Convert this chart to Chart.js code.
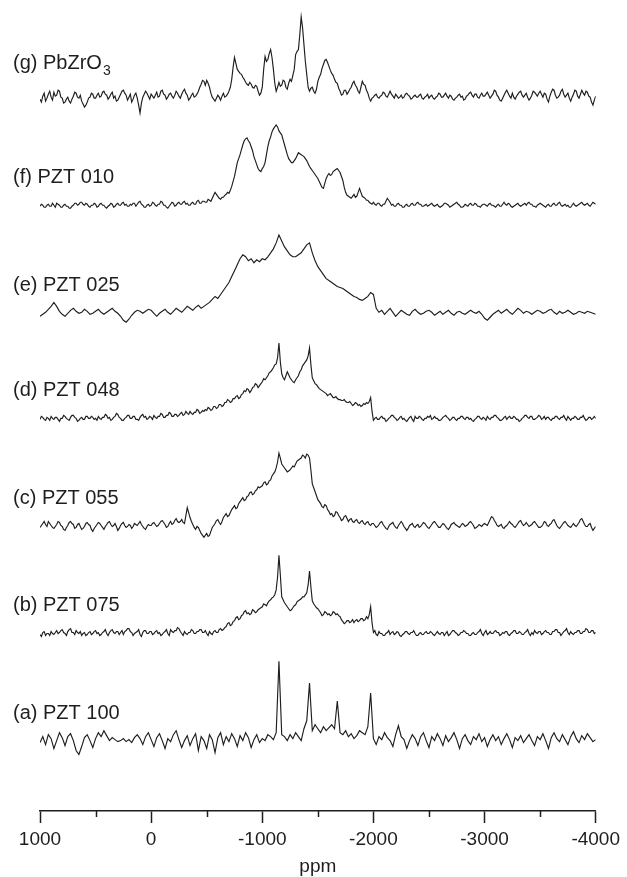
<!DOCTYPE html>
<html>
<head>
<meta charset="utf-8">
<script src="https://cdn.jsdelivr.net/npm/chart.js@4/dist/chart.umd.min.js"></script>
<style>
  html, body { margin: 0; padding: 0; background: #fff; }
  #wrap { width: 627px; height: 877px; position: relative; }
</style>
</head>
<body>
<div id="wrap"><canvas id="c" width="627" height="877"></canvas></div>
<script>
// ---- ppm range covered by every spectrum (evenly sampled) ----
const ppmStart = 1000;
const ppmEnd = -4000;
// ---- axis ticks ----
const majorTicks = [1000, 0, -1000, -2000, -3000, -4000];
const minorTicks = [500, -500, -1500, -2500, -3500];
const axisTitle = 'ppm';
// ---- sample names ----
const sampleLabels = ['(a) PZT 100', '(b) PZT 075', '(c) PZT 055', '(d) PZT 048', '(e) PZT 025', '(f) PZT 010', '(g) PbZrO'];
// vertical offset of each trace (stacked display, arbitrary units)
const traceOffsets = [69, 178, 286, 395, 501, 610, 718];

// ---- intensities (arbitrary units), from 1000 ppm to -4000 ppm ----
// (a) and (e): every 25 ppm
const specA = [
  0, 6, -2, 8, 4, -6, 2, 10, 5, -3, 6, 9, 2, -8, -12, -4, 5, 8, 2, -5,
  4, 10, 6, 12, 7, 2, 5, 3, 1, 2, 4, 1, 3, 0, 5, 8, 4, -2, 6, 10,
  3, -4, 5, 9, 2, -6, 4, 1, 8, 12, 3, -5, 2, 7, -3, 4, 9, -8, 6, 2,
  -6, 8, 3, -10, 5, 10, -2, 6, 1, 9, 4, -4, 7, 2, 10, 5, -5, 3, 8, 0,
  4, 2, 8, 6, 3, 10, 82, 8, 6, 2, 8, 4, 10, 6, 2, 14, 22, 60, 12, 18,
  14, 10, 16, 12, 15, 18, 14, 42, 10, 8, 12, 6, 9, 4, 7, 12, 10, 8, 16, 50,
  4, -2, 6, 3, 10, 5, 2, -4, 8, 17, 6, 3, -6, 2, 8, 4, -3, 6, 10, 2,
  -5, 6, 2, 9, 4, -3, 7, 1, 5, 10, 3, -6, 4, 8, 2, -2, 6, 3, 9, 1,
  5, -4, 3, 8, 2, 6, -2, 4, 9, 3, -5, 5, 2, 7, 0, 4, 8, 2, -3, 6,
  3, 9, 2, -6, 5, 10, 4, 1, 8, 3, -2, 6, 11, 4, 0, 7, 3, 9, 5, 1,
  3
];
const specE = [
  -2, 0, 2, 5, 8, 12, 8, 3, 0, -2, 1, 4, 6, 3, 1, 2, 5, 3, 0, 1,
  3, 5, 2, 0, 2, 4, 6, 3, 1, -2, -6, -8, -5, -1, 2, 4, 3, 1, 3, 5,
  4, 1, -2, 1, 3, 5, 2, 0, 3, 6, 4, 2, 5, 8, 6, 4, 7, 9, 6, 8,
  10, 12, 15, 18, 16, 20, 24, 28, 32, 38, 44, 50, 56, 60, 58, 54, 56, 52, 55, 53,
  56, 55, 58, 62, 66, 72, 80, 74, 68, 64, 60, 58, 58, 60, 62, 66, 70, 72, 62, 54,
  48, 44, 40, 36, 34, 32, 30, 28, 27, 26, 24, 22, 20, 18, 17, 15, 14, 16, 18, 22,
  20, 6, 2, 4, 0, 3, 6, 2, -2, 1, 4, 2, 0, -1, 3, 5, 2, 0, 1, 3,
  4, 2, -1, 1, 3, 0, 2, 4, 1, -1, 2, 3, 1, 0, 2, 4, 2, 1, 3, 0,
  -4, -6, -3, 0, 2, 4, 1, 3, 5, 2, 0, 3, 6, 4, 1, 3, 2, 0, 2, 4,
  3, 1, 2, 4, 5, 2, 0, 3, 1, 2, 4, 2, 0, 1, 3, 2, 1, 3, 2, 1,
  0
];
// (b), (c), (d), (f), (g): every 12.5 ppm
const specB = [
  0,-2,2,3,-1,1,1,-1,3,1, 0,2,4,1,2,4,5,2,1,-1, 3,5,6,2,2,0,4,2,1,3, -1,1,2,-1,0,2,3,0,1,3,
  4,1,2,-1,0,2,3,5,1,-1, 2,4,5,2,1,3,3,0,2,4, 0,3,4,6,6,3,2,-1,1,2, 3,5,0,-2,2,4,4,1,1,3,
  3,0,1,3,4,1,2,-1,0,2, 3,5,1,-1,5,3,2,4,4,7, 6,3,1,-1,3,1,0,2,2,5, 4,1,1,3,3,5,5,2,2,4,
  1,-1,3,1,0,3,4,2,2,5, 6,4,5,7,8,11,12,9,10,13, 14,17,18,15,16,19,20,23,24,21, 22,20,21,25,24,22,23,25,26,27,
  28,31,30,29,32,34,35,37,38,40, 45,58,80,60,38,35,32,30,28,26, 24,25,27,29,30,33,34,35,36,38, 38,40,42,50,64,48,34,31,29,27,
  26,24,22,19,20,23,22,20,21,19, 20,23,22,20,21,19,18,15,13,11, 12,14,14,12,13,15,12,14,15,13, 14,16,16,14,15,18,16,20,28,12,
  2,4,0,-1,3,1,1,-1,-1,1, 2,4,0,2,3,0,1,3,2,-1, -2,0,1,3,3,1,0,2,2,4, 1,-1,-1,1,2,0,0,2,3,1,
  1,3,2,0,-1,1,3,1,0,2, 2,-1,1,3,-1,0,2,4,4,2, 1,-1,0,2,2,4,3,1,1,-1, -1,1,2,0,0,2,3,5,1,-1,
  2,4,0,1,3,1,1,3,4,2, 2,-1,0,2,1,3,3,0,-1,1, 2,4,4,1,1,3,2,0,0,2, 3,5,1,-1,2,0,4,2,1,3,
  3,0,1,3,4,2,2,0,0,3, 3,5,5,2,2,-1,1,3,4,6, 2,0,3,1,0,2,2,4,4,1, 1,3,3,6,5,2,2,4,4,1,
  2
];
const specC = [
  0,2,4,6,3,1,6,4,2,0, -1,1,3,6,5,2,1,-2,-3,0, 2,5,6,4,3,-1,0,3,4,1, -2,-1,1,4,5,3,2,-2,-4,-1,
  1,3,5,4,2,0,-2,1,3,5, 6,3,1,2,4,1,-3,-1,2,4, 5,2,0,1,3,2,-1,1,4,3, 2,4,6,3,1,-1,-2,1,3,2,
  2,4,5,3,1,2,4,6,7,5, 3,0,1,4,6,3,4,7,9,6, 5,6,8,5,4,12,20,15,10,6, 3,0,-2,1,0,-3,-6,-8,-10,-8,
  -6,-9,-8,-4,0,2,4,7,8,5, 3,6,10,12,14,11,12,15,18,20, 22,19,20,24,26,28,30,27,28,31, 32,35,36,33,34,37,38,41,40,41,
  42,45,46,43,44,47,48,52,54,56, 60,66,75,70,64,62,60,58,56,57, 58,60,62,61,64,67,68,69,70,73, 72,70,74,73,70,58,44,40,36,32,
  28,26,24,21,20,23,22,18,16,13, 14,11,12,16,15,12,10,7,8,11, 12,9,6,8,9,6,5,7,8,5, 4,6,7,4,3,5,6,3,2,4,
  4,2,0,1,3,5,6,3,1,-1, -2,1,3,4,5,2,0,-1,2,4, 6,4,1,-1,-3,-1,2,3,4,1, 0,2,3,0,1,3,5,4,2,0,
  -1,1,3,5,6,4,2,0,0,2, 4,3,1,-1,-2,0,3,4,5,3, 2,1,0,2,4,3,1,2,3,5, 6,4,2,-1,0,1,3,2,1,3,
  4,3,2,5,8,11,10,7,5,2, 1,2,3,0,-1,1,2,4,6,4, 3,1,0,2,4,6,7,4,2,3, 5,3,1,2,3,5,6,4,2,0,
  0,1,3,6,5,2,1,3,4,7, 8,5,2,0,-1,1,3,5,6,4, 2,1,0,2,4,2,1,3,5,8, 9,6,3,1,1,3,4,0,-3,-1,
  1
];
const specD = [
  0,3,2,0,-1,2,1,-1,3,1, 0,2,2,0,-2,1,1,4,3,1, 0,-1,2,4,4,2,1,-2,-1,1, 2,0,0,3,3,1,1,3,2,0,
  1,-1,3,1,0,2,2,5,4,1, 2,-1,0,2,3,6,5,2,1,-1, -1,1,2,4,4,1,1,3,3,0, 0,-1,2,4,5,2,3,0,1,3,
  2,0,4,2,1,3,3,6,5,2, 2,4,4,7,6,3,3,5,5,3, 4,6,7,4,5,8,6,5,8,6, 5,7,7,10,9,6,7,9,8,10,
  9,12,11,9,10,13,13,11,12,15, 15,13,14,17,17,20,19,17,18,21, 21,23,24,21,22,25,26,29,28,31, 30,27,29,32,33,36,35,32,34,36,
  38,41,40,42,44,47,48,50,52,55, 56,62,77,58,46,42,40,44,48,45, 42,40,38,37,40,42,44,48,50,54, 56,58,60,64,72,55,42,39,36,35,
  33,31,30,29,28,27,26,24,25,26, 24,22,22,23,21,20,20,19,19,20, 18,17,17,18,16,14,15,17,16,14, 15,13,14,16,15,17,16,18,22,8,
  -1,1,2,0,0,2,3,1,1,-2, -1,1,2,4,4,2,1,-1,0,2, 3,0,1,-1,-2,0,2,3,0,-2, 3,1,1,3,2,0,-1,1,1,3,
  2,4,0,1,3,1,1,-1,-1,0, 2,3,4,2,1,-1,0,2,2,0, -1,1,1,3,3,1,0,2,2,0, 1,-1,-2,0,1,3,3,1,0,2,
  1,-1,3,1,0,2,2,4,4,2, 1,-1,-1,0,2,3,0,2,3,1, 1,3,2,0,0,-2,-1,1,2,4, 4,2,1,3,3,0,0,1,2,4,
  3,0,1,3,0,2,2,0,-1,1, 1,3,3,1,0,2,2,4,1,-1, 3,1,-1,1,1,3,2,0,0,2, 2,4,1,-1,0,2,2,0,1,3,
  1
];
const specF = [
  0,2,1,-1,-1,1,2,0,0,3, 1,-1,3,2,1,-1,-1,1,2,0, 0,-2,-2,0,1,3,3,1,2,4, 4,2,1,3,2,0,-1,1,1,3,
  2,-1,0,2,3,1,1,-1,-2,0, 1,3,2,-1,0,2,3,1,1,3, 4,1,2,0,0,2,1,3,3,0, 2,4,5,2,1,-1,-1,1,2,0,
  1,4,3,1,0,2,2,5,4,1, 1,-1,-2,0,2,4,3,0,1,3, 4,2,2,4,5,2,3,1,1,3, 4,2,2,5,6,3,3,5,5,4,
  4,7,6,5,8,11,14,12,10,8, 7,9,9,11,12,14,13,16,20,25, 30,37,44,48,52,57,62,66,68,69, 66,64,60,56,50,46,42,38,36,35,
  38,40,44,52,60,66,70,75,78,80, 82,80,76,74,72,67,62,57,52,48, 46,44,44,46,48,51,54,53,52,51, 50,48,46,43,40,38,36,34,32,30,
  28,25,22,19,18,23,28,31,33,31, 32,35,36,37,38,36,34,30,26,19, 14,11,10,9,8,10,12,9,10,14, 18,14,10,9,8,6,6,4,3,2,
  4,2,1,3,3,1,0,2,2,5, 8,6,4,1,2,0,0,2,3,1, 1,-1,-1,1,2,0,0,2,3,1, 1,3,4,2,2,0,0,1,2,0,
  1,2,3,1,0,1,2,0,-1,0, 1,3,3,2,1,-1,0,1,2,3, 4,2,1,-1,-1,0,2,1,0,2, 3,1,1,3,2,0,0,-1,1,2,
  2,1,0,2,3,1,1,0,-1,1, 2,0,0,2,4,2,1,3,2,0, -1,0,1,2,3,1,0,1,2,3, 1,3,4,2,2,0,0,-1,1,2,
  3,2,1,0,-1,1,2,0,0,2, 3,1,1,3,4,1,0,1,2,0, 1,-1,-1,1,3,1,0,1,2,3, 4,2,1,2,3,1,0,2,4,3,
  2
];
const specG = [
  0,-3,3,6,-2,1,5,8,2,-1, 7,3,4,9,8,2,1,-4,-3,0, 2,-2,-4,0,3,7,6,2,1,4, -2,-5,-8,-6,-3,1,2,6,5,1,
  1,4,6,2,3,7,8,5,4,0, 2,5,7,1,3,-2,-1,2,5,8, 9,6,4,-1,2,5,-3,0,4,6, 1,-6,-14,-4,2,5,8,6,3,0,
  5,3,1,4,7,2,3,8,9,5, 4,0,2,5,6,3,1,4,8,6, 3,1,5,8,10,6,4,-1,1,4, 6,2,3,5,8,12,15,19,18,14,
  19,16,12,6,2,0,-2,1,4,2, -1,3,6,2,3,5,8,12,20,32, 42,36,30,28,26,25,22,20,17,15, 14,17,15,12,11,14,13,8,4,6,
  12,30,43,38,40,46,50,42,30,16, 8,12,17,13,14,19,18,12,10,16, 20,18,24,30,45,48,50,65,83,72, 55,38,25,12,8,11,12,8,6,10,
  18,22,25,31,35,39,40,37,33,29, 26,24,20,17,16,11,8,4,5,9, 9,5,7,10,12,16,18,14,12,8, 6,12,18,15,14,9,6,1,-2,1,
  2,4,5,2,1,3,4,7,6,3, 2,5,8,5,3,1,5,3,1,2, 4,1,2,5,6,4,3,0,1,3, 4,2,2,4,5,1,0,2,3,5,
  1,3,4,1,0,2,3,6,5,2, 2,4,6,3,1,4,3,0,-1,1, 2,4,5,2,3,-1,0,3,4,6, 7,4,2,5,5,2,1,4,6,3,
  3,5,7,4,1,3,5,9,8,4, 2,-1,-2,1,4,7,9,6,3,1, 6,2,0,3,5,7,8,4,2,4, 6,2,-1,1,4,8,7,5,3,6,
  8,5,2,6,5,0,-3,3,7,10, 9,4,1,2,4,8,10,5,2,4, 6,1,-2,2,5,9,8,3,1,5, 9,6,4,8,7,3,2,-3,-6,-1,
  3
];
const spectra = [specA, specB, specC, specD, specE, specF, specG];

const FONT = '"Liberation Sans", Arial, Helvetica, sans-serif';
const INK = '#1e1e1e';

const datasets = spectra.map((s, k) => {
  const n = s.length;
  return {
    label: sampleLabels[k],
    data: s.map((v, i) => ({ x: ppmStart + (ppmEnd - ppmStart) * i / (n - 1), y: traceOffsets[k] + v })),
    borderColor: INK,
    borderWidth: 1.15,
    pointRadius: 0,
    tension: 0,
    fill: false
  };
});

const extrasPlugin = {
  id: 'extras',
  afterDraw(chart) {
    const ctx = chart.ctx;
    const xs = chart.scales.x, ys = chart.scales.y;
    const ca = chart.chartArea;
    ctx.save();
    // minor ticks
    ctx.strokeStyle = INK;
    ctx.lineWidth = 1.5;
    minorTicks.forEach(v => {
      const px = Math.round(xs.getPixelForValue(v)) + 0.5;
      ctx.beginPath();
      ctx.moveTo(px, ca.bottom);
      ctx.lineTo(px, ca.bottom + 6);
      ctx.stroke();
    });
    // sample labels
    ctx.fillStyle = INK;
    ctx.textBaseline = 'middle';
    ctx.textAlign = 'left';
    sampleLabels.forEach((lab, k) => {
      const lift = (k === 6) ? 36 : 29;
      const y = ys.getPixelForValue(traceOffsets[k] + lift);
      const x = ca.left - 27;
      ctx.font = '20px ' + FONT;
      ctx.fillText(lab, x, y);
      if (k === 6) {
        const w = ctx.measureText(lab).width;
        ctx.font = '14px ' + FONT;
        ctx.fillText('3', x + w + 1, y + 8);
      }
    });
    ctx.restore();
  }
};

new Chart(document.getElementById('c'), {
  type: 'line',
  data: { datasets },
  options: {
    responsive: false,
    animation: false,
    events: [],
    layout: { padding: { left: 40, right: 27, top: 0, bottom: 1 } },
    plugins: { legend: { display: false }, tooltip: { enabled: false } },
    scales: {
      x: {
        type: 'linear',
        reverse: true,
        min: ppmEnd,
        max: ppmStart,
        afterBuildTicks(scale) { scale.ticks = majorTicks.map(v => ({ value: v })); },
        ticks: {
          autoSkip: false,
          maxRotation: 0,
          padding: 7,
          color: INK,
          font: { family: FONT, size: 19, lineHeight: 1 },
          callback: (v) => String(v)
        },
        grid: {
          display: true,
          drawOnChartArea: false,
          drawTicks: true,
          tickLength: 12,
          tickColor: INK,
          tickWidth: 1.5,
          color: INK
        },
        border: { display: true, color: INK, width: 1.5 },
        title: {
          display: true,
          text: axisTitle,
          color: INK,
          font: { family: FONT, size: 19, lineHeight: 1 },
          padding: { top: 1, bottom: 0 }
        }
      },
      y: {
        type: 'linear',
        display: false,
        min: 0,
        max: 818
      }
    }
  },
  plugins: [extrasPlugin]
});
</script>
</body>
</html>
